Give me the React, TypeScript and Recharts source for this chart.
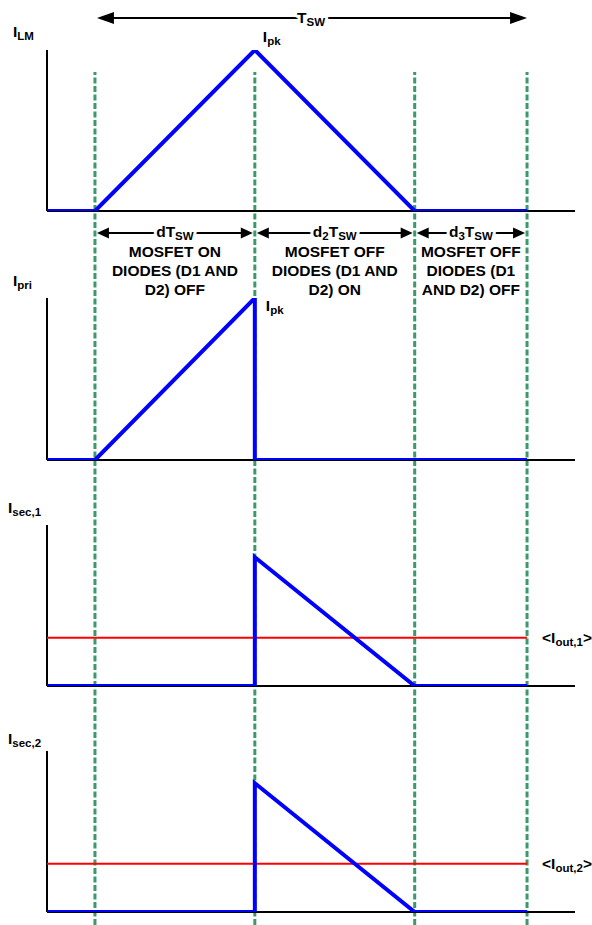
import { LineChart, Line, XAxis, YAxis, ReferenceLine, ReferenceDot } from 'recharts';

// time is in fractions of T_SW; axis runs a little before turn-on and past the period end
const T_MIN = -0.111;
const T_MAX = 1.111;

// switching instants: MOSFET on, MOSFET off, diodes stop, period end
const edges = [0, 0.37, 0.74, 1];

const tLM = [-0.111, 0, 0.37, 0.74, 1];
const iLM = [0, 0, 1, 0, 0];

const tPri = [-0.111, 0, 0.37, 0.37, 1];
const iPri = [0, 0, 1, 0, 0];

const tSec = [-0.111, 0.37, 0.37, 0.74, 1];
const iSec1 = [0, 0, 0.8, 0, 0];
const iSec2 = [0, 0, 0.8, 0, 0];

const iOut1 = 0.3;
const iOut2 = 0.3;

const phaseDuty = ['', '2', '3'];
const phaseText = [
  ['MOSFET ON', 'DIODES (D1 AND', 'D2) OFF'],
  ['MOSFET OFF', 'DIODES (D1 AND', 'D2) ON'],
  ['MOSFET OFF', 'DIODES (D1', 'AND D2) OFF'],
];

const FONT = '"Liberation Sans", Arial, sans-serif';
const BLUE = '#0000ff';
const RED = '#ff0000';
const GREEN = '#3a9a6a';
const W = 592;
const LEFT = 47;
const RIGHT = 17;
const FS = 15.5;
const FS_SUB = 11.5;

type Seg = { t: string; sub?: boolean };

function RichText({ x, y, segs, anchor, halo }: { x: number; y: number; segs: Seg[]; anchor: string; halo: boolean }) {
  let prev = false;
  return (
    <text
      x={x}
      y={y}
      textAnchor={anchor as any}
      fontFamily={FONT}
      fontWeight="bold"
      fontSize={FS}
      fill={halo ? '#fff' : '#000'}
      stroke={halo ? '#fff' : 'none'}
      strokeWidth={halo ? 6 : 0}
      strokeLinejoin="round"
    >
      {segs.map((s, k) => {
        const isSub = !!s.sub;
        const dy = isSub === prev ? 0 : isSub ? 3 : -3;
        prev = isSub;
        return (
          <tspan key={k} dy={dy} fontSize={isSub ? FS_SUB : FS}>
            {s.t}
          </tspan>
        );
      })}
    </text>
  );
}

function Rich({ x, y, segs, anchor = 'start', halo = false }: { x: number; y: number; segs: Seg[]; anchor?: string; halo?: boolean }) {
  return (
    <g>
      {halo && <RichText x={x} y={y} segs={segs} anchor={anchor} halo />}
      <RichText x={x} y={y} segs={segs} anchor={anchor} halo={false} />
    </g>
  );
}

function Arrow({ x1, x2, y, head, half }: { x1: number; x2: number; y: number; head: number; half: number }) {
  return (
    <g>
      <line x1={x1 + head - 1} y1={y} x2={x2 - head + 1} y2={y} stroke="#000" strokeWidth={2} />
      <polygon points={`${x1},${y} ${x1 + head},${y - half} ${x1 + head},${y + half}`} fill="#000" />
      <polygon points={`${x2},${y} ${x2 - head},${y - half} ${x2 - head},${y + half}`} fill="#000" />
    </g>
  );
}

const panels = [
  { top: 50, bottom: 211, t: tLM, i: iLM, name: 'LM', nameDx: -34, nameDy: -13, pk: [8, -8] },
  { top: 298, bottom: 460, t: tPri, i: iPri, name: 'pri', nameDx: -34, nameDy: -12, pk: [11, 13] },
  { top: 525, bottom: 686, t: tSec, i: iSec1, name: 'sec,1', nameDx: -39, nameDy: -12, avg: iOut1, avgName: 'out,1' },
  { top: 751, bottom: 912, t: tSec, i: iSec2, name: 'sec,2', nameDx: -39, nameDy: -7, avg: iOut2, avgName: 'out,2' },
];

function Panel({ p }: { p: any }) {
  const data = p.t.map((t: number, k: number) => ({ t, i: p.i[k] }));
  const padTop = 40;
  const padBottom = 10;
  return (
    <div style={{ position: 'absolute', left: 0, top: p.top - padTop }}>
      <LineChart
        width={W}
        height={p.bottom - p.top + padTop + padBottom}
        data={data}
        margin={{ top: padTop, right: RIGHT, bottom: padBottom, left: LEFT }}
      >
        <XAxis hide type="number" dataKey="t" domain={[T_MIN, T_MAX]} allowDataOverflow />
        <YAxis hide type="number" domain={[0, 1]} allowDataOverflow />
        {/* axis lines */}
        <ReferenceLine segment={[{ x: T_MIN, y: 0 }, { x: T_MIN, y: 1 }]} stroke="#000" strokeWidth={2} ifOverflow="visible" />
        <ReferenceLine y={0} stroke="#000" strokeWidth={2} ifOverflow="visible" />
        {p.avg != null && (
          <ReferenceLine
            segment={[{ x: T_MIN, y: p.avg }, { x: edges[3], y: p.avg }]}
            stroke={RED}
            strokeWidth={2}
            label={{
              content: (lp: any) => {
                const vb = lp.viewBox;
                return (
                  <Rich
                    x={vb.x + vb.width + 15}
                    y={vb.y + 5}
                    segs={[{ t: '<I' }, { t: p.avgName, sub: true }, { t: '>' }]}
                  />
                );
              },
            }}
          />
        )}
        <Line type="linear" dataKey="i" stroke={BLUE} strokeWidth={4} dot={false} activeDot={false} isAnimationActive={false} />
        <ReferenceDot
          x={T_MIN}
          y={1}
          r={0}
          fill="none"
          stroke="none"
          label={{
            content: (lp: any) => {
              const vb = lp.viewBox;
              return <Rich x={vb.x + vb.width / 2 + p.nameDx} y={vb.y + vb.height / 2 + p.nameDy} segs={[{ t: 'I' }, { t: p.name, sub: true }]} />;
            },
          }}
        />
        {p.pk && (
          <ReferenceDot
            x={edges[1]}
            y={1}
            r={0}
            fill="none"
            stroke="none"
            label={{
              content: (lp: any) => {
                const vb = lp.viewBox;
                return <Rich x={vb.x + vb.width / 2 + p.pk[0]} y={vb.y + vb.height / 2 + p.pk[1]} segs={[{ t: 'I' }, { t: 'pk', sub: true }]} />;
              },
            }}
          />
        )}
      </LineChart>
    </div>
  );
}

function GuideLines() {
  const data = edges.map((t) => ({ t, v: 0 }));
  return (
    <div style={{ position: 'absolute', left: 0, top: 0 }}>
      <LineChart width={W} height={925} data={data} margin={{ top: 72, right: RIGHT, bottom: 0, left: LEFT }}>
        <XAxis hide type="number" dataKey="t" domain={[T_MIN, T_MAX]} allowDataOverflow />
        <YAxis hide type="number" domain={[0, 1]} allowDataOverflow />
        {edges.map((e) => (
          <ReferenceLine key={e} x={e} stroke={GREEN} strokeWidth={3} strokeDasharray="6 2.5" />
        ))}
      </LineChart>
    </div>
  );
}

function PeriodArrow() {
  const data = edges.map((t) => ({ t, v: 0 }));
  return (
    <div style={{ position: 'absolute', left: 0, top: 0 }}>
      <LineChart width={W} height={36} data={data} margin={{ top: 0, right: RIGHT, bottom: 0, left: LEFT }}>
        <XAxis hide type="number" dataKey="t" domain={[T_MIN, T_MAX]} allowDataOverflow />
        <YAxis hide type="number" domain={[0, 1]} allowDataOverflow />
        <ReferenceLine
          segment={[{ x: edges[0], y: 0.5 }, { x: edges[3], y: 0.5 }]}
          shape={(sp: any) => (
            <g>
              <Arrow x1={sp.x1 + 2} x2={sp.x2} y={sp.y1} head={17} half={6} />
              <Rich x={(sp.x1 + sp.x2) / 2} y={sp.y1 + 5} anchor="middle" halo segs={[{ t: 'T' }, { t: 'SW', sub: true }]} />
            </g>
          )}
        />
      </LineChart>
    </div>
  );
}

function PhaseRow() {
  const data = edges.map((t) => ({ t, v: 0 }));
  return (
    <div style={{ position: 'absolute', left: 0, top: 221 }}>
      <LineChart width={W} height={80} data={data} margin={{ top: 0, right: RIGHT, bottom: 56, left: LEFT }}>
        <XAxis hide type="number" dataKey="t" domain={[T_MIN, T_MAX]} allowDataOverflow />
        <YAxis hide type="number" domain={[0, 1]} allowDataOverflow />
        {phaseText.map((lines, k) => (
          <ReferenceLine
            key={k}
            segment={[{ x: edges[k], y: 0.5 }, { x: edges[k + 1], y: 0.5 }]}
            shape={(sp: any) => {
              const mid = (sp.x1 + sp.x2) / 2;
              const segs: Seg[] = [{ t: 'd' }];
              if (phaseDuty[k]) segs.push({ t: phaseDuty[k], sub: true });
              segs.push({ t: 'T' }, { t: 'SW', sub: true });
              return (
                <g>
                  <Arrow x1={sp.x1 + 2} x2={sp.x2 - 2} y={sp.y1} head={12} half={5.5} />
                  <Rich x={mid} y={sp.y1 + 4} anchor="middle" halo segs={segs} />
                  {lines.map((s, j) => (
                    <text key={j} x={mid} y={sp.y1 + 24 + j * 19} textAnchor="middle" fontFamily={FONT} fontWeight="bold" fontSize={FS} fill="#000">
                      {s}
                    </text>
                  ))}
                </g>
              );
            }}
          />
        ))}
      </LineChart>
    </div>
  );
}

export default function App() {
  return (
    <div style={{ position: 'absolute', left: 0, top: 0, width: W, height: 925, background: '#fff' }}>
      <GuideLines />
      {panels.map((p, k) => (
        <Panel key={k} p={p} />
      ))}
      <PeriodArrow />
      <PhaseRow />
    </div>
  );
}
